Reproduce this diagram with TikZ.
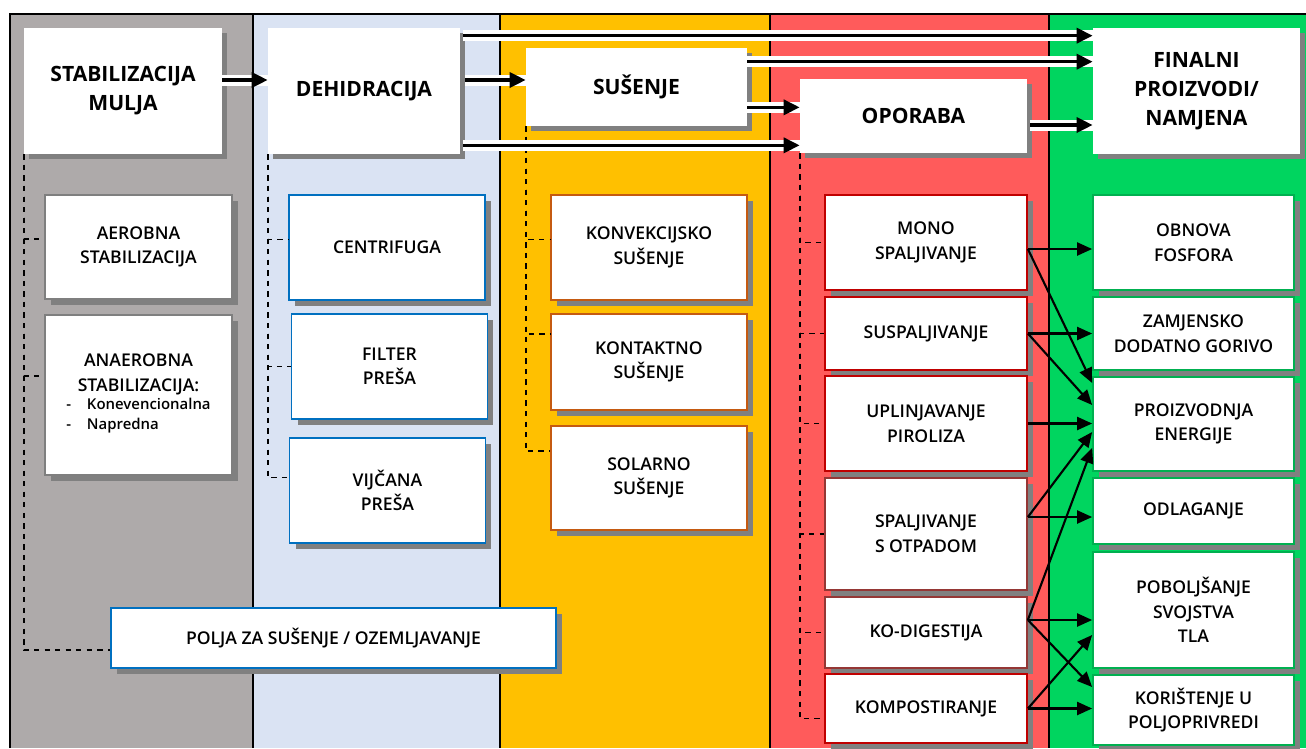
\documentclass[tikz,border=0pt]{standalone}
\usepackage{fontspec}
\setmainfont{Open Sans}
\newfontfamily\semib{Open Sans Semibold}
\usetikzlibrary{arrows.meta, calc, shadows}
\definecolor{mugray}{HTML}{AEAAAA}
\definecolor{mublue}{HTML}{DAE3F3}
\definecolor{muyellow}{HTML}{FFC000}
\definecolor{mured}{HTML}{FF5B5B}
\definecolor{mugreen}{HTML}{00D55F}
\definecolor{muedgegray}{HTML}{7F7F7F}
\definecolor{muedgeblue}{HTML}{0070C0}
\definecolor{muedgeorange}{HTML}{C55A11}
\definecolor{muedgered}{HTML}{C00000}
\definecolor{muedgebrown}{HTML}{953735}
\definecolor{muedgegreen}{HTML}{00B050}
\definecolor{mushadow}{HTML}{808080}

\begin{document}
\begin{tikzpicture}[
  x=0.02cm, y=-0.02cm,
  every node/.style={font=\semib\fontsize{10}{14}\selectfont},
  hdrnode/.style={rectangle, fill=white, align=center, inner sep=2pt, font=\bfseries\fontsize{12}{16.5}\selectfont, general shadow={fill=mushadow, shadow xshift=0.1cm, shadow yshift=-0.1cm}},
  boxnode/.style={rectangle, fill=white, align=center, inner sep=2pt, line width=1pt, general shadow={fill=mushadow, shadow xshift=0.12cm, shadow yshift=-0.12cm}},
  stabnode/.style={boxnode, draw=muedgegray, minimum width=3.74cm},
  dehnode/.style={boxnode, draw=muedgeblue, minimum width=3.92cm, minimum height=2.1cm},
  susnode/.style={boxnode, draw=muedgeorange, minimum width=3.92cm},
  opnode/.style={boxnode, draw=muedgered, minimum width=4.04cm},
  finnode/.style={boxnode, draw=muedgegreen, minimum width=4.02cm},
  sepline/.style={black, line width=1.1pt},
  treeline/.style={dashed, line width=1pt},
  flowarrow/.style={line width=2pt, -{Triangle[length=0.32cm, width=0.3cm]}, preaction={draw=white, line width=0.22cm, -}},
  thinarrow/.style={line width=1.2pt, -{Triangle[length=0.3cm, width=0.26cm]}},
]
\useasboundingbox (0,0) rectangle (1306,748);

% Column backgrounds
\fill[mugray] (10,14) rectangle (253,748);
\fill[mublue] (253,14) rectangle (500,748);
\fill[muyellow] (500,14) rectangle (770,748);
\fill[mured] (770,14) rectangle (1049,748);
\fill[mugreen] (1049,14) rectangle (1306,748);
\draw[sepline] (253,14) -- (253,748);
\draw[sepline] (500,14) -- (500,748);
\draw[sepline] (770,14) -- (770,748);
\draw[sepline] (1049,14) -- (1049,748);
\draw[sepline] (10,748) -- (10,14) -- (1306,14);

% Header boxes
\node[hdrnode, minimum width=3.96cm, minimum height=2.52cm] (stab) at (123,91) {STABILIZACIJA\\MULJA};
\node[hdrnode, minimum width=3.84cm, minimum height=2.52cm] (dehid) at (364,91) {DEHIDRACIJA};
\node[hdrnode, minimum width=4.42cm, minimum height=1.56cm] (susenje) at (636.5,87) {SUŠENJE};
\node[hdrnode, minimum width=4.54cm, minimum height=1.48cm] (oporaba) at (913.5,116) {OPORABA};
\node[hdrnode, minimum width=4.14cm, minimum height=2.52cm] (final) at (1196.5,91) {FINALNI\\PROIZVODI/\\NAMJENA};

% Stabilizacija
\node[stabnode, minimum height=2.08cm] (aerob) at (138.5,247) {AEROBNA\\STABILIZACIJA};
\node[stabnode, minimum height=3.2cm] (anaerob) at (138.5,395) {ANAEROBNA\\STABILIZACIJA:\\[-1pt]{\fontsize{8.5}{11.8}\selectfont\begin{tabular}{@{}l@{\hspace{9pt}}l@{}}-&Konevencionalna\\-&Napredna\end{tabular}}};

% Dehidracija
\node[dehnode] (centrif) at (387,247.5) {CENTRIFUGA};
\node[dehnode] (filter) at (389.5,366.5) {FILTER\\PREŠA};
\node[dehnode] (vijcana) at (387.5,490.5) {VIJČANA\\PREŠA};

% Susenje
\node[susnode, minimum height=2.1cm] (konv) at (649,247.5) {KONVEKCIJSKO\\SUŠENJE};
\node[susnode, minimum height=1.92cm] (kontakt) at (649,362) {KONTAKTNO\\SUŠENJE};
\node[susnode, minimum height=2.08cm] (solarno) at (649,478) {SOLARNO\\SUŠENJE};

% Oporaba
\node[opnode, minimum height=1.9cm] (mono) at (926,242.5) {MONO\\SPALJIVANJE};
\node[opnode, minimum height=1.46cm] (suspalj) at (926,333.5) {SUSPALJIVANJE};
\node[opnode, minimum height=1.9cm] (uplinj) at (926,423.5) {UPLINJAVANJE\\PIROLIZA};
\node[opnode, draw=muedgebrown, minimum height=2.24cm] (spalj) at (926,534) {SPALJIVANJE\\S OTPADOM};
\node[opnode, draw=muedgebrown, minimum height=1.42cm] (kodig) at (926,632.5) {KO-DIGESTIJA};
\node[opnode, minimum height=1.38cm] (kompost) at (926,708.5) {KOMPOSTIRANJE};

% Finalni proizvodi
\node[finnode, minimum height=1.9cm] (obnova) at (1193.5,242.5) {OBNOVA\\FOSFORA};
\node[finnode, minimum height=1.46cm] (zamjen) at (1193.5,333.5) {ZAMJENSKO\\DODATNO GORIVO};
\node[finnode, minimum height=1.88cm] (energija) at (1193.5,424) {PROIZVODNJA\\ENERGIJE};
\node[finnode, minimum height=1.32cm] (odlag) at (1193.5,511) {ODLAGANJE};
\node[finnode, minimum height=2.32cm] (pobolj) at (1193.5,610) {POBOLJŠANJE\\SVOJSTVA\\TLA};
\node[finnode, minimum height=1.4cm] (korist) at (1193.5,710) {KORIŠTENJE U\\POLJOPRIVREDI};

% Dashed trees
\draw[treeline] (stab.south west) |- ($(aerob.west)+(0,-8)$);
\draw[treeline] (stab.south west) |- ($(anaerob.west)+(0,-19)$);
\draw[treeline] (dehid.south west) |- ($(centrif.west)+(0,-8)$);
\draw[treeline] (dehid.south west) |- (filter.west);
\draw[treeline] (dehid.south west) |- ($(vijcana.west)+(0,-13)$);
\draw[treeline] (susenje.south west) |- ($(konv.west)+(0,-8)$);
\draw[treeline] (susenje.south west) |- ($(kontakt.west)+(0,-28)$);
\draw[treeline] (susenje.south west) |- ($(solarno.west)+(0,-27)$);
\draw[treeline] (oporaba.south west) |- (mono.west);
\draw[treeline] (oporaba.south west) |- (suspalj.west);
\draw[treeline] (oporaba.south west) |- (uplinj.west);
\draw[treeline] (oporaba.south west) |- (spalj.west);
\draw[treeline] (oporaba.south west) |- (kodig.west);
\draw[treeline] (oporaba.south west) |- ($(kompost.west)+(0,10)$);

% Polja box sits across two columns
\node[dehnode, minimum width=8.9cm, minimum height=1.2cm] (polja) at (333.5,638) {POLJA ZA SUŠENJE / OZEMLJAVANJE};
\draw[treeline] (stab.south west) |- ($(polja.west)+(0,12)$);

% Main flow
\draw[flowarrow] ($(stab.east)+(0,-11)$) coordinate (f1) -- (f1 -| dehid.west);
\draw[flowarrow] ($(dehid.east)+(5,-11)$) coordinate (f2) -- (f2 -| susenje.west);
\draw[flowarrow] ($(dehid.north east)+(3,8)$) coordinate (f3) -- (f3 -| final.west);
\draw[flowarrow] ($(susenje.north east)+(0,14)$) coordinate (f4) -- (f4 -| final.west);
\draw[flowarrow] ($(susenje.south east)+(0,-19)$) coordinate (f5) -- (f5 -| oporaba.west);
\draw[flowarrow] ($(dehid.south east)+(3,-9)$) coordinate (f6) -- (f6 -| oporaba.west);
\draw[flowarrow] ($(oporaba.east)+(3,9)$) coordinate (f7) -- (f7 -| final.west);

% Oporaba -> finalni proizvodi
\coordinate (m1) at ($(mono.east)+(0,6.5)$);
\coordinate (m2) at (suspalj.east);
\coordinate (m3) at (uplinj.east);
\coordinate (m4) at ($(spalj.east)+(0,-17)$);
\coordinate (m5) at ($(kodig.east)+(0,-12.5)$);
\coordinate (m6) at (kompost.east);
\draw[thinarrow] (m1) -- (m1 -| obnova.west);
\draw[thinarrow] (m1) -- ($(energija.west)+(0,-41)$);
\draw[thinarrow] (m2) -- (m2 -| zamjen.west);
\draw[thinarrow] (m2) -- ($(energija.west)+(0,-19)$);
\draw[thinarrow] (m3) -- (m3 -| energija.west);
\draw[thinarrow] (m4) -- (m4 -| odlag.west);
\draw[thinarrow] (m4) -- ($(energija.west)+(0,8)$);
\draw[thinarrow] (m5) -- (m5 -| pobolj.west);
\draw[thinarrow] (m5) -- ($(energija.west)+(0,24)$);
\draw[thinarrow] (m5) -- ($(korist.west)+(0,-23)$);
\draw[thinarrow] (m6) -- (m6 -| korist.west);
\draw[thinarrow] (m6) -- ($(pobolj.west)+(0,25)$);

\end{tikzpicture}
\end{document}
